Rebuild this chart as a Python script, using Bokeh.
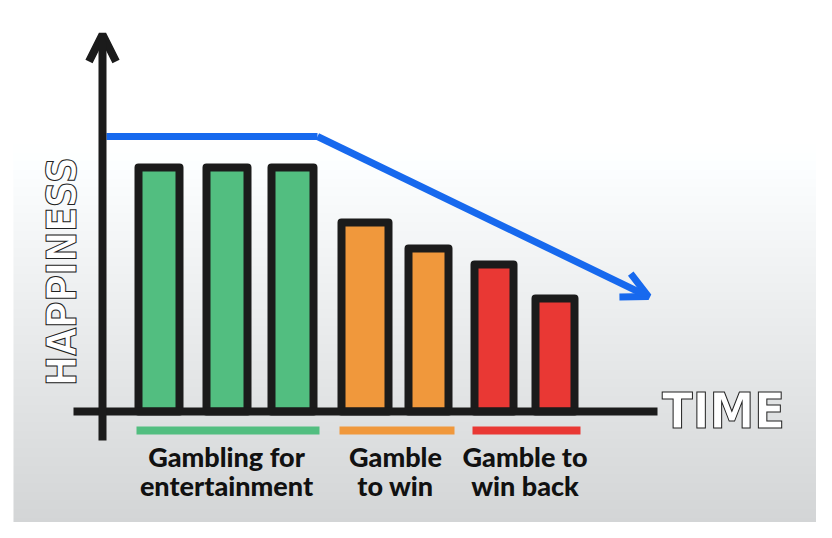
import numpy as np
from bokeh.plotting import figure
from bokeh.models import Range1d, Arrow, OpenHead
from bokeh.core.properties import value
from bokeh.embed import file_html
from bokeh.resources import INLINE

# ---------------- data ----------------
bar_time = [158.5, 226.5, 292.0, 364.5, 428.0, 493.5, 554.5]
bar_width = [41, 41, 42, 47, 40, 39, 39]
happiness = [10.0, 10.0, 10.0, 7.75, 6.68, 6.02, 4.63]
bar_phase = [0, 0, 0, 1, 1, 2, 2]
phase_labels = ["Gambling for\nentertainment", "Gamble\nto win", "Gamble to\nwin back"]
phase_colors = ["#52be80", "#f0983c", "#e93834"]
trend_time = [106, 317, 648]
trend_happiness = [11.27, 11.27, 4.71]
x_label = "TIME"
y_label = "HAPPINESS"

# ---------------- layout helpers (screen px -> happiness units) ----------------
BASE_PX = 411.0
PX_PER_UNIT = 24.4


def Y(px):
    return (BASE_PX - px) / PX_PER_UNIT


INK = "#1b1b1b"
TITLE_FONT = "Liberation Sans Narrow, DejaVu Sans Condensed, sans-serif"

p = figure(width=816, height=522, x_range=Range1d(0, 816), y_range=Range1d(Y(522), Y(0)),
           output_backend="svg", toolbar_location=None, min_border=0,
           x_axis_location=None, y_axis_location=None)
p.grid.visible = False
p.outline_line_color = None
p.background_fill_color = "white"
p.border_fill_color = "white"

# background panel gradient
H = 513
rows = np.zeros((H, 1), dtype=np.uint32)
view = rows.view(dtype=np.uint8).reshape((H, 1, 4))
for i in range(H):
    py = 525 - i
    g = 255.0 if py < 140 else 255.0 - (py - 140) * 0.115
    gi = int(round(g))
    view[i, 0, 0] = gi
    view[i, 0, 1] = min(255, gi + 2)
    view[i, 0, 2] = min(255, gi + 3)
    view[i, 0, 3] = 255
p.image_rgba(image=[rows], x=13, y=Y(525), dw=806, dh=(525 - 12) / PX_PER_UNIT)

# trend line (blue)
p.line(trend_time[:2], trend_happiness[:2], line_color="#1769ee", line_width=7, line_join="round")
p.add_layout(Arrow(end=OpenHead(size=26, line_color="#1769ee", line_width=7),
                   x_start=trend_time[1], y_start=trend_happiness[1],
                   x_end=trend_time[2], y_end=trend_happiness[2],
                   line_color="#1769ee", line_width=7))

# bars
fills = [phase_colors[k] for k in bar_phase]
p.vbar(x=bar_time, width=bar_width, top=happiness, bottom=0, fill_color=fills,
       line_color=INK, line_width=8, line_join="round")

# axes (hand drawn)
p.line([73, 657], [0, 0], line_color=INK, line_width=8)
p.add_layout(Arrow(end=OpenHead(size=27, line_color=INK, line_width=8),
                   x_start=102, y_start=Y(440), x_end=102, y_end=Y(34),
                   line_color=INK, line_width=8))

# phase underlines and labels
for k, lab in enumerate(phase_labels):
    idx = [i for i, ph in enumerate(bar_phase) if ph == k]
    left = min(bar_time[i] - bar_width[i] / 2 - 4 for i in idx) + 2
    right = max(bar_time[i] + bar_width[i] / 2 + 4 for i in idx) + 2
    p.segment(x0=[left], y0=[Y(430)], x1=[right], y1=[Y(430)],
              line_color=phase_colors[k], line_width=8)
    p.text(x=[(left + right) / 2 - 1.5], y=[Y(439)], text=[lab],
           text_font=value("Lato Black, Lato"), text_font_style="bold", text_font_size="27px",
           text_color="#111111", text_align="center", text_baseline="top",
           text_line_height=0.9)

# axis titles (outlined lettering)
p.text(x=[723], y=[Y(410)], text=[x_label],
       text_font=value(TITLE_FONT), text_font_style="bold",
       text_font_size="50px", text_color="white", text_outline_color="#222222",
       text_align="center", text_baseline="middle")
p.text(x=[61], y=[Y(271)], text=[y_label], angle=np.pi / 2,
       text_font=value(TITLE_FONT), text_font_style="bold",
       text_font_size="40px", text_color="white", text_outline_color="#222222",
       text_align="center", text_baseline="middle")

open("out.html", "w").write(file_html(p, INLINE))
